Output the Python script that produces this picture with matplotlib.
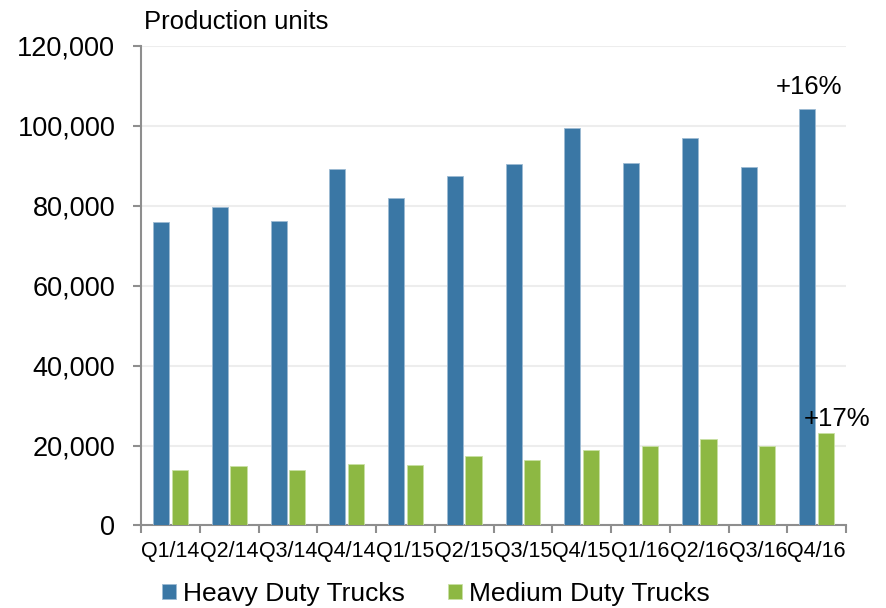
import numpy as np
import matplotlib
matplotlib.use("Agg")
import matplotlib.pyplot as plt
from matplotlib.ticker import FuncFormatter, FixedLocator

plt.rcParams['font.family'] = ['Liberation Sans', 'DejaVu Sans']

quarters = ["Q1/14", "Q2/14", "Q3/14", "Q4/14", "Q1/15", "Q2/15",
            "Q3/15", "Q4/15", "Q1/16", "Q2/16", "Q3/16", "Q4/16"]
heavy = [75900, 79700, 76200, 89100, 81900, 87500,
         90400, 99500, 90600, 96800, 89700, 104200]
medium = [13800, 15000, 13900, 15300, 15200, 17500,
          16300, 19000, 19800, 21700, 19800, 23200]
heavy_change = "+16%"
medium_change = "+17%"

blue = "#3A77A5"
green = "#8DB843"
axis_grey = "#8E8E8E"

fig = plt.figure(figsize=(8.87, 6.08), dpi=100)
ax = fig.add_axes([0.159, 0.1357, 0.7948, 0.7893])

x = np.arange(len(quarters))
off = 0.158
w = 0.275
ax.bar(x - off, heavy, width=w, color=blue, edgecolor="#9DBAD3", linewidth=0.6, zorder=3,
       label="Heavy Duty Trucks")
ax.bar(x + off, medium, width=w, color=green, edgecolor="#C9E0A4", linewidth=0.6, zorder=3,
       label="Medium Duty Trucks")

ax.set_xlim(-0.5, len(quarters) - 0.5)
ax.set_ylim(0, 120000)
ax.set_yticks(np.arange(0, 120001, 20000))
ax.yaxis.set_major_formatter(FuncFormatter(lambda v, p: f"{int(v):,}"))
ax.grid(axis="y", color="#EDEDED", linewidth=1.5, zorder=0)

ax.set_xticks(x)
ax.set_xticklabels(quarters)
ax.xaxis.set_minor_locator(FixedLocator(np.arange(-0.5, len(quarters), 1.0)))
ax.tick_params(axis="x", which="major", length=0, pad=11, labelsize=15.5)
ax.tick_params(axis="x", which="minor", length=6, width=1.5, color=axis_grey, direction="out")
ax.tick_params(axis="y", length=6, width=1.5, color=axis_grey, labelsize=19.5, pad=12.5)

for s in ["top", "right"]:
    ax.spines[s].set_visible(False)
for s in ["left", "bottom"]:
    ax.spines[s].set_color(axis_grey)
    ax.spines[s].set_linewidth(1.5)

fig.text(144 / 887, 1 - 29 / 608, "Production units", fontsize=18.5, ha="left", va="baseline")

ax.annotate(heavy_change, xy=(x[-1] - off, heavy[-1]), xytext=(1, 11),
            textcoords="offset points", ha="center", va="baseline", fontsize=18.5)
ax.annotate(medium_change, xy=(x[-1] + off, medium[-1]), xytext=(8, 5),
            textcoords="offset points", ha="center", va="baseline", fontsize=18.5)

leg = fig.legend(loc="center left", bbox_to_anchor=(162 / 887, 14 / 608), ncol=2, frameon=False,
                 fontsize=19, handlelength=0.53, handleheight=0.53, handletextpad=0.25,
                 columnspacing=1.65, borderpad=0, borderaxespad=0)

fig.savefig("out.png", dpi=100)
